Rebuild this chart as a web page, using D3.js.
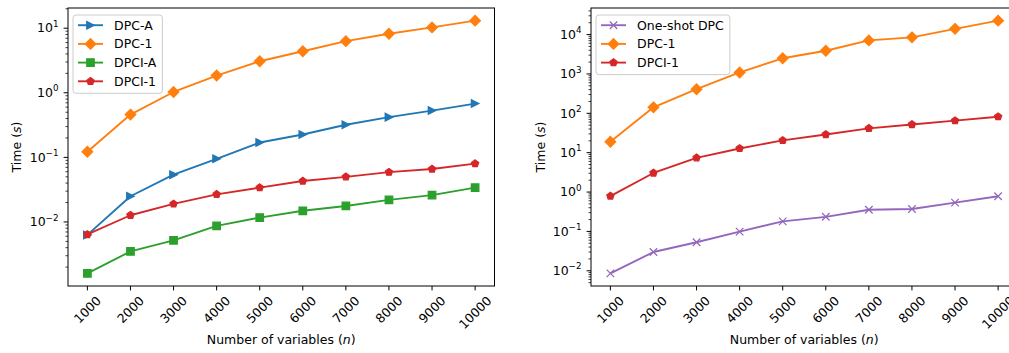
<!DOCTYPE html>
<html>
<head>
<meta charset="utf-8">
<script src="https://cdn.jsdelivr.net/npm/d3@7"></script>
<style>
  body { margin: 0; background: #fff; }
  svg text { font-family: "DejaVu Sans", sans-serif; fill: #000; }
</style>
</head>
<body>
<svg id="chart" width="1009" height="353"></svg>
<script>
// shared x values (number of variables)
var nValues = [1000, 2000, 3000, 4000, 5000, 6000, 7000, 8000, 9000, 10000];
var xTickLabels = ['1000', '2000', '3000', '4000', '5000', '6000', '7000', '8000', '9000', '10000'];

// left panel series (time in s)
var dpcA = [0.0063, 0.025, 0.054, 0.095, 0.17, 0.226, 0.32, 0.42, 0.53, 0.68];
var dpc1Left = [0.122, 0.46, 1.03, 1.85, 3.08, 4.4, 6.3, 8.2, 10.3, 13.1];
var dpciA = [0.0016, 0.0035, 0.0052, 0.0087, 0.0117, 0.0149, 0.0177, 0.022, 0.026, 0.034];
var dpci1Left = [0.0064, 0.0127, 0.019, 0.0268, 0.034, 0.043, 0.050, 0.059, 0.066, 0.080];

// right panel series
var oneShot = [0.0086, 0.030, 0.053, 0.099, 0.18, 0.235, 0.355, 0.37, 0.54, 0.78];
var dpc1Right = [18.9, 142, 410, 1090, 2500, 3880, 7100, 8500, 14000, 22600];
var dpci1Right = [0.79, 3.05, 7.4, 12.8, 20.5, 29, 41.5, 52, 65, 82];

var leftSeries = [
  { name: 'DPC-A', values: dpcA, color: '#1f77b4', marker: 'tri' },
  { name: 'DPC-1', values: dpc1Left, color: '#ff7f0e', marker: 'diamond' },
  { name: 'DPCI-A', values: dpciA, color: '#2ca02c', marker: 'square' },
  { name: 'DPCI-1', values: dpci1Left, color: '#d62728', marker: 'pentagon' }
];
var rightSeries = [
  { name: 'One-shot DPC', values: oneShot, color: '#9467bd', marker: 'x' },
  { name: 'DPC-1', values: dpc1Right, color: '#ff7f0e', marker: 'diamond' },
  { name: 'DPCI-1', values: dpci1Right, color: '#d62728', marker: 'pentagon' }
];

var svg = d3.select('#chart');
var fontSize = 12.5;
var ms = 7.5;

function markerPath(type) {
  var h = ms / 2;
  if (type == 'tri') return 'M' + h + ',0L' + (-h) + ',' + (-h) + 'L' + (-h) + ',' + h + 'Z';
  if (type == 'diamond') { var d = ms / Math.SQRT2; return 'M0,' + (-d) + 'L' + d + ',0L0,' + d + 'L' + (-d) + ',0Z'; }
  if (type == 'square') return 'M' + (-h) + ',' + (-h) + 'H' + h + 'V' + h + 'H' + (-h) + 'Z';
  if (type == 'pentagon') {
    var pts = d3.range(5).map(function(k) {
      var a = (-90 + 72 * k) * Math.PI / 180;
      return [h * Math.cos(a), h * Math.sin(a)];
    });
    return 'M' + pts.join('L') + 'Z';
  }
  if (type == 'x') return 'M' + (-h) + ',' + (-h) + 'L' + h + ',' + h + 'M' + (-h) + ',' + h + 'L' + h + ',' + (-h);
}

function drawMarker(g, type, color, x, y) {
  g.append('path')
    .attr('d', markerPath(type))
    .attr('transform', 'translate(' + x + ',' + y + ')')
    .attr('fill', type == 'x' ? 'none' : color)
    .attr('stroke', color)
    .attr('stroke-width', 1.25);
}

function drawPanel(opts) {
  var left = opts.left, right = opts.right, top = 8, bottom = 286;
  var g = svg.append('g');

  // log domain with 5% margins like matplotlib autoscale
  var all = [];
  opts.series.forEach(function(s) { all = all.concat(s.values); });
  var lo = Math.log10(d3.min(all)), hi = Math.log10(d3.max(all));
  var pad = (hi - lo) * 0.05;
  var y = d3.scaleLog().domain([Math.pow(10, lo - pad), Math.pow(10, hi + pad)]).range([bottom, top]);
  var xpad = (10000 - 1000) * 0.05;
  var x = d3.scaleLinear().domain([1000 - xpad, 10000 + xpad]).range([left, right]);

  // series
  var line = d3.line().x(function(d, i) { return x(nValues[i]); }).y(function(d) { return y(d); });
  opts.series.forEach(function(s) {
    g.append('path')
      .attr('d', line(s.values))
      .attr('fill', 'none')
      .attr('stroke', s.color)
      .attr('stroke-width', 1.875)
      .attr('stroke-linejoin', 'round');
    s.values.forEach(function(v, i) { drawMarker(g, s.marker, s.color, x(nValues[i]), y(v)); });
  });

  // spines
  g.append('rect')
    .attr('x', left).attr('y', top)
    .attr('width', right - left).attr('height', bottom - top)
    .attr('fill', 'none').attr('stroke', '#000').attr('stroke-width', 1);

  // x ticks
  nValues.forEach(function(n, i) {
    var px = x(n);
    g.append('line').attr('x1', px).attr('x2', px).attr('y1', bottom).attr('y2', bottom + 4.4)
      .attr('stroke', '#000').attr('stroke-width', 1);
    var t = g.append('text')
      .attr('text-anchor', 'middle')
      .attr('dominant-baseline', 'central')
      .style('font-size', fontSize + 'px')
      .text(xTickLabels[i]);
    var w = t.node().getComputedTextLength();
    var hh = (w + 10) / (2 * Math.SQRT2);
    var cy = bottom + 8.8 + hh;
    t.attr('x', px).attr('y', cy).attr('transform', 'rotate(-45,' + px + ',' + cy + ')');
  });

  // y ticks (major + minor)
  var d0 = Math.floor(Math.log10(y.domain()[0])), d1 = Math.ceil(Math.log10(y.domain()[1]));
  for (var k = d0; k <= d1; k++) {
    for (var m = 1; m <= 9; m++) {
      var v = m * Math.pow(10, k);
      if (v < y.domain()[0] || v > y.domain()[1]) continue;
      var py = y(v);
      g.append('line').attr('x1', left).attr('x2', left - (m == 1 ? 4.4 : 2.5))
        .attr('y1', py).attr('y2', py)
        .attr('stroke', '#000').attr('stroke-width', m == 1 ? 1 : 0.75);
      if (m == 1) {
        var lab = g.append('text')
          .attr('x', left - 9.5).attr('y', py + 4.2)
          .attr('text-anchor', 'end')
          .style('font-size', fontSize + 'px');
        lab.append('tspan').text('10');
        lab.append('tspan').attr('dy', -5.5).style('font-size', (fontSize * 0.7) + 'px')
          .text(k < 0 ? '\u2212' + (-k) : String(k));
      }
    }
  }

  // axis labels
  var cx = (left + right) / 2;
  var xl = g.append('text').attr('x', cx).attr('y', 344).attr('text-anchor', 'middle')
    .style('font-size', fontSize + 'px');
  xl.append('tspan').text('Number of variables (');
  xl.append('tspan').style('font-style', 'italic').text('n');
  xl.append('tspan').text(')');

  var cyl = (top + bottom) / 2;
  var yl = g.append('text').attr('x', opts.ylabelX).attr('y', cyl).attr('text-anchor', 'middle')
    .attr('transform', 'rotate(-90,' + opts.ylabelX + ',' + cyl + ')')
    .style('font-size', fontSize + 'px');
  yl.append('tspan').text('Time (');
  yl.append('tspan').style('font-style', 'italic').text('s');
  yl.append('tspan').text(')');

  // legend
  var lg = g.append('g');
  var lx = left + 5, ly = 15, rowH = 18.7;
  var box = lg.append('rect')
    .attr('x', lx).attr('y', ly)
    .attr('rx', 3).attr('ry', 3)
    .attr('fill', '#fff').attr('fill-opacity', 0.8)
    .attr('stroke', '#cccccc').attr('stroke-width', 1);
  var maxW = 0;
  opts.series.forEach(function(s, i) {
    var ry = ly + 10.2 + i * rowH;
    lg.append('line').attr('x1', lx + 5).attr('x2', lx + 30).attr('y1', ry).attr('y2', ry)
      .attr('stroke', s.color).attr('stroke-width', 1.875);
    drawMarker(lg, s.marker, s.color, lx + 17.5, ry);
    var t = lg.append('text').attr('x', lx + 41).attr('y', ry + 4.5)
      .style('font-size', fontSize + 'px').text(s.name);
    maxW = Math.max(maxW, t.node().getComputedTextLength());
  });
  box.attr('width', 41 + maxW + 6).attr('height', opts.series.length * rowH + 3.5);
}

drawPanel({ left: 68, right: 494.5, series: leftSeries, ylabelX: 21 });
drawPanel({ left: 591, right: 1017.5, series: rightSeries, ylabelX: 545 });
</script>
</body>
</html>
